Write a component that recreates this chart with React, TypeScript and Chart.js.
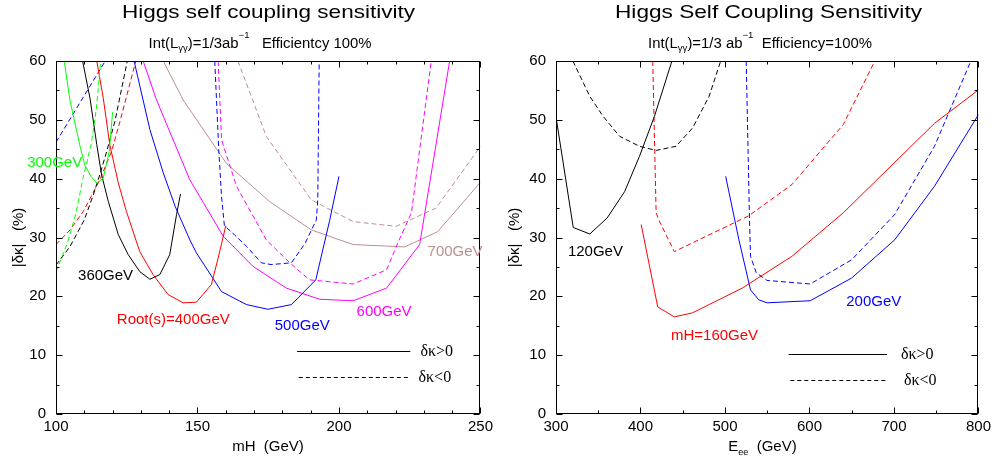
import React, { useEffect, useRef } from 'react';
import { Chart, registerables } from 'chart.js';

Chart.register(...registerables);

const FONT = '"Liberation Sans", Arial, Helvetica, sans-serif';
const SERIF = '"Liberation Serif", "Times New Roman", serif';

// ===== Left panel: |δκ| (%) vs mH (GeV) =====
const mH_ticks = [100, 150, 200, 250];
const dk_ticks = [0, 10, 20, 30, 40, 50, 60];

// √s = 300 GeV
const s300_pos_x = [102.9, 104.9, 108.5, 110.2, 112.5, 114.4, 116.7, 118.8, 120];
const s300_pos_y = [60, 53.4, 45.5, 42.3, 40.3, 39.25, 40.1, 44.6, 51.3];
const s300_neg_x = [100, 104, 107, 109.5, 112.5, 114.3, 115.8];
const s300_neg_y = [24.2, 29, 34, 40, 46, 52, 60];
// √s = 360 GeV
const s360_pos_x = [109.4, 112, 114.4, 116.1, 118.5, 122, 125.5, 129.6, 133.2, 136.7, 140.2, 142.6, 144];
const s360_pos_y = [60, 53.7, 45.8, 40.7, 36.1, 30.5, 27.1, 24.2, 22.9, 23.7, 27.1, 33.9, 37.4];
const s360_neg_x = [100, 105, 110, 113, 115.5, 117.9, 120.8, 125.2];
const s360_neg_y = [25.3, 28.5, 33, 37, 40.7, 44.6, 49.7, 60];
// √s = 400 GeV
const s400_pos_x = [114.4, 116.7, 119, 122, 124.9, 129.6, 134.3, 139.6, 144.9, 149.6, 154.9, 157.3, 160];
const s400_pos_y = [60, 53.7, 45.8, 39.3, 34.4, 27.6, 23.7, 20.3, 18.9, 19.0, 22.0, 26.5, 32];
const s400_neg_x = [100, 105, 109.6, 115.5, 119.6, 122.6, 128.2];
const s400_neg_y = [28.8, 31.3, 34.4, 39.8, 44.6, 49.7, 60];
// √s = 500 GeV
const s500_pos_x = [127.6, 133.2, 137.9, 142.1, 147.3, 149.6, 158.5, 167.3, 174.9, 183.2, 191.8, 196.7, 200];
const s500_pos_y = [60, 48.3, 41.0, 35.3, 29.6, 27.4, 20.8, 18.6, 17.8, 18.6, 22.8, 32.9, 40.4];
const s500_negA_x = [100, 117.4];
const s500_negA_y = [46.2, 60];
const s500_negB_x = [156.1, 157.5, 158.5, 159.5, 163, 167.3, 172.6, 176, 183.2, 188, 192, 192.5, 193];
const s500_negB_y = [60, 45, 37, 32, 30.5, 28.5, 25.7, 25.4, 25.7, 29, 33, 36.4, 60];
// √s = 600 GeV
const s600_pos_x = [130.8, 135.5, 147.3, 159.1, 169.6, 181.4, 193.2, 205, 216.8, 228.5, 239.1];
const s600_pos_y = [60, 53.4, 39.8, 30.2, 25.1, 21.4, 19.5, 19.25, 21.4, 28.8, 60];
const s600_neg_x = [157.3, 158.5, 163.8, 174.3, 182.6, 189.6, 205, 216.8, 221, 225.6, 232.6];
const s600_neg_y = [60, 46.6, 38.7, 29.6, 25.7, 22.8, 22.1, 24.5, 29.3, 34.2, 60];
// √s = 700 GeV
const s700_pos_x = [137.9, 144.9, 160.2, 175.5, 190.2, 200.2, 205, 223.2, 234.9, 250];
const s700_pos_y = [60, 53.4, 42.6, 36.1, 31.3, 29.6, 28.8, 28.4, 31.0, 39.4];
const s700_neg_x = [164.3, 174.3, 190.2, 205, 220.2, 234.3, 250];
const s700_neg_y = [60, 47.2, 36.4, 32.7, 31.9, 35.0, 45.5];

// ===== Right panel: |δκ| (%) vs E_ee (GeV) =====
const Eee_ticks = [300, 400, 500, 600, 700, 800];

// mH = 120 GeV
const m120_pos_x = [300, 320.4, 340, 360.4, 381.2, 398.8, 416.5, 437.2];
const m120_pos_y = [50.5, 31.7, 30.6, 33.3, 37.8, 43.8, 50.6, 60];
const m120_neg_x = [320, 340, 355.7, 375.3, 398.8, 418.5, 442, 461.6, 481.2, 494.9];
const m120_neg_y = [60, 54, 50.6, 47.2, 45.5, 44.8, 45.5, 48.6, 54, 60];
// mH = 160 GeV
const m160_pos_x = [400.8, 420.4, 440, 461.6, 520.4, 579.2, 640, 747.9, 800];
const m160_pos_y = [32.2, 18.2, 16.5, 17.2, 21.4, 26.8, 34.2, 49.4, 55.1];
const m160_neg_x = [414.5, 418.5, 421.6, 440, 528.2, 579.2, 640, 677.3];
const m160_neg_y = [60, 34.2, 33, 27.6, 33.7, 39.0, 49.2, 60];
// mH = 200 GeV
const m200_pos_x = [500.8, 516.5, 530.2, 540, 549.8, 600.8, 649.8, 700.8, 747.9, 800];
const m200_pos_y = [40.4, 29.6, 21.1, 19.4, 18.9, 19.25, 23.1, 29.6, 38.7, 50.9];
const m200_neg_x = [525.1, 529, 530.2, 537, 549.8, 600.8, 649.8, 700.8, 747.9, 791];
const m200_neg_y = [60, 33, 26.8, 24, 22.7, 22.1, 26.2, 33.9, 45.5, 60];

// ===== colours =====
const GREEN = '#00ff00';
const BLACK = '#000000';
const RED = '#ff0000';
const BLUE = '#0000ff';
const MAGENTA = '#ff00ff';
const BROWN = '#bc8f8f';
const DASH = [5, 3];

const pts = (xs: number[], ys: number[]) => xs.map((x, i) => ({ x, y: ys[i] }));
const ds = (xs: number[], ys: number[], color: string, dashed: boolean) => ({
  data: pts(xs, ys),
  borderColor: color,
  backgroundColor: color,
  borderWidth: 1,
  borderDash: dashed ? DASH : [],
  pointRadius: 0,
  tension: 0,
  fill: false,
});

type Seg = { t: string; s: number; dy: number; serif?: boolean };
type Lbl = { text: string; x: number; y: number; color: string };
type Leg = { x0: number; x1: number; y: number; dashed: boolean; text: string; tx: number };
interface Deco {
  labels: Lbl[];
  legend: Leg[];
  title: Seg[]; titleCx: number; titleBase: number; titleW: number;
  sub: Seg[]; subCx: number; subBase: number; subW: number;
  xTitle: Seg[]; xTitleCx: number; xTitleBase: number;
  yTitle: string; yTitleCx: number;
  xMinor: number; xMajor: number; yMinor: number; yMajor: number;
}

function drawRich(ctx: CanvasRenderingContext2D, segs: Seg[], cx: number, base: number, targetW?: number) {
  let w = 0;
  for (const s of segs) {
    ctx.font = `${s.s}px ${s.serif ? SERIF : FONT}`;
    w += ctx.measureText(s.t).width;
  }
  const k = targetW ? targetW / w : 1;
  ctx.save();
  ctx.translate(cx - (w * k) / 2, base);
  ctx.scale(k, 1);
  ctx.textAlign = 'left';
  ctx.textBaseline = 'alphabetic';
  ctx.fillStyle = '#000';
  let x = 0;
  for (const s of segs) {
    ctx.font = `${s.s}px ${s.serif ? SERIF : FONT}`;
    ctx.fillText(s.t, x, s.dy);
    x += ctx.measureText(s.t).width;
  }
  ctx.restore();
}

function makeDeco(d: Deco) {
  return {
    id: 'deco',
    afterDatasetsDraw(chart: any) {
      const { ctx, chartArea: a, scales } = chart;
      const xs = scales.x;
      const ys = scales.y;
      ctx.save();
      ctx.setLineDash([]);
      ctx.strokeStyle = '#000';
      ctx.lineWidth = 1;
      const L = Math.round(a.left) + 0.5;
      const R = Math.round(a.right) - 0.5;
      const T = Math.round(a.top) + 0.5;
      const B = Math.round(a.bottom) - 0.5;
      ctx.strokeRect(L, T, R - L, B - T);
      const line = (x0: number, y0: number, x1: number, y1: number) => {
        ctx.beginPath();
        ctx.moveTo(x0, y0);
        ctx.lineTo(x1, y1);
        ctx.stroke();
      };
      const isMajor = (v: number, m: number) => Math.abs(v / m - Math.round(v / m)) < 1e-6;
      for (let v = xs.min; v <= xs.max + 1e-9; v += d.xMinor) {
        const p = Math.round(xs.getPixelForValue(v)) + 0.5;
        const len = isMajor(v, d.xMajor) ? 6 : 3;
        line(p, B, p, B - len);
        line(p, T, p, T + len);
      }
      for (let v = ys.min; v <= ys.max + 1e-9; v += d.yMinor) {
        const p = Math.round(ys.getPixelForValue(v)) + 0.5;
        const len = isMajor(v, d.yMajor) ? 6 : 3;
        line(L, p, L + len, p);
        line(R, p, R - len, p);
      }
      // curve labels
      ctx.textAlign = 'left';
      ctx.textBaseline = 'middle';
      ctx.font = `15px ${FONT}`;
      for (const l of d.labels) {
        ctx.fillStyle = l.color;
        ctx.fillText(l.text, xs.getPixelForValue(l.x), ys.getPixelForValue(l.y));
      }
      // line-style key
      ctx.strokeStyle = '#000';
      ctx.fillStyle = '#000';
      ctx.font = `16px ${SERIF}`;
      for (const g of d.legend) {
        const y = Math.round(ys.getPixelForValue(g.y)) + 0.5;
        ctx.setLineDash(g.dashed ? [4, 3] : []);
        line(xs.getPixelForValue(g.x0), y, xs.getPixelForValue(g.x1), y);
        ctx.setLineDash([]);
        ctx.fillText(g.text, xs.getPixelForValue(g.tx), y);
      }
      // titles
      drawRich(ctx, d.title, d.titleCx, d.titleBase, d.titleW);
      drawRich(ctx, d.sub, d.subCx, d.subBase, d.subW);
      drawRich(ctx, d.xTitle, d.xTitleCx, d.xTitleBase);
      // y title
      ctx.save();
      ctx.translate(d.yTitleCx, (a.top + a.bottom) / 2);
      ctx.rotate(-Math.PI / 2);
      ctx.textAlign = 'center';
      ctx.textBaseline = 'middle';
      ctx.font = `15px ${FONT}`;
      ctx.fillStyle = '#000';
      ctx.fillText(d.yTitle, 0, 0);
      ctx.restore();
      ctx.restore();
    },
  };
}

function makeConfig(
  datasets: any[],
  xMin: number,
  xMax: number,
  xTicks: number[],
  yAxisW: number,
  padRight: number,
  deco: Deco
): any {
  const tickFont = { family: FONT, size: 15 };
  return {
    type: 'line',
    data: { datasets },
    options: {
      responsive: false,
      animation: false,
      events: [],
      layout: { padding: { top: 61, right: padRight, left: 0, bottom: 0 } },
      plugins: { legend: { display: false }, tooltip: { enabled: false }, title: { display: false } },
      scales: {
        x: {
          type: 'linear',
          min: xMin,
          max: xMax,
          afterBuildTicks: (s: any) => { s.ticks = xTicks.map((v) => ({ value: v })); },
          ticks: { color: '#000', font: tickFont, padding: 4, maxRotation: 0, autoSkip: false },
          grid: { display: false, drawTicks: false },
          border: { display: false },
          afterFit: (s: any) => { s.height = 50; },
        },
        y: {
          type: 'linear',
          min: 0,
          max: 60,
          afterBuildTicks: (s: any) => { s.ticks = dk_ticks.map((v) => ({ value: v })); },
          ticks: { color: '#000', font: tickFont, padding: 10 },
          grid: { display: false, drawTicks: false },
          border: { display: false },
          afterFit: (s: any) => { s.width = yAxisW; },
        },
      },
    },
    plugins: [makeDeco(deco)],
  };
}

const leftDatasets = () => [
  ds(s300_pos_x, s300_pos_y, GREEN, false),
  ds(s300_neg_x, s300_neg_y, GREEN, true),
  ds(s360_pos_x, s360_pos_y, BLACK, false),
  ds(s360_neg_x, s360_neg_y, BLACK, true),
  ds(s400_pos_x, s400_pos_y, RED, false),
  ds(s400_neg_x, s400_neg_y, RED, true),
  ds(s500_pos_x, s500_pos_y, BLUE, false),
  ds(s500_negA_x, s500_negA_y, BLUE, true),
  ds(s500_negB_x, s500_negB_y, BLUE, true),
  ds(s600_pos_x, s600_pos_y, MAGENTA, false),
  ds(s600_neg_x, s600_neg_y, MAGENTA, true),
  ds(s700_pos_x, s700_pos_y, BROWN, false),
  ds(s700_neg_x, s700_neg_y, BROWN, true),
];

const rightDatasets = () => [
  ds(m120_pos_x, m120_pos_y, BLACK, false),
  ds(m120_neg_x, m120_neg_y, BLACK, true),
  ds(m160_pos_x, m160_pos_y, RED, false),
  ds(m160_neg_x, m160_neg_y, RED, true),
  ds(m200_pos_x, m200_pos_y, BLUE, false),
  ds(m200_neg_x, m200_neg_y, BLUE, true),
];

const leftDeco: Deco = {
  labels: [
    { text: '300GeV', x: 89.8, y: 42.7, color: GREEN },
    { text: '360GeV', x: 107.8, y: 23.5, color: BLACK },
    { text: 'Root(s)=400GeV', x: 121.5, y: 16.0, color: RED },
    { text: '500GeV', x: 177.3, y: 14.9, color: BLUE },
    { text: '600GeV', x: 206.2, y: 17.4, color: MAGENTA },
    { text: '700GeV', x: 231.3, y: 27.6, color: BROWN },
  ],
  legend: [
    { x0: 185.2, x1: 225.2, y: 10.75, dashed: false, text: 'δκ>0', tx: 228.8 },
    { x0: 185.8, x1: 225.0, y: 6.3, dashed: true, text: 'δκ<0', tx: 228.1 },
  ],
  title: [{ t: 'Higgs self coupling sensitivity', s: 19, dy: 0 }],
  titleCx: 268.5, titleBase: 17.5, titleW: 293,
  sub: [
    { t: 'Int(L', s: 14, dy: 0 },
    { t: 'γγ', s: 9, dy: 3 },
    { t: ')=1/3ab', s: 14, dy: 0 },
    { t: '−1', s: 9, dy: -10 },
    { t: '   Efficientcy 100%', s: 14, dy: 0 },
  ],
  subCx: 260, subBase: 48.3, subW: 223,
  xTitle: [{ t: 'mH  (GeV)', s: 15, dy: 0 }],
  xTitleCx: 268, xTitleBase: 451,
  yTitle: '|δκ|   (%)', yTitleCx: 19,
  xMinor: 10, xMajor: 50, yMinor: 5, yMajor: 10,
};

const rightDeco: Deco = {
  labels: [
    { text: '120GeV', x: 314.1, y: 27.6, color: BLACK },
    { text: 'mH=160GeV', x: 436.1, y: 13.2, color: RED },
    { text: '200GeV', x: 643.5, y: 19.1, color: BLUE },
  ],
  legend: [
    { x0: 575.3, x1: 691.8, y: 10.2, dashed: false, text: 'δκ>0', tx: 708.2 },
    { x0: 577.3, x1: 691.8, y: 5.7, dashed: true, text: 'δκ<0', tx: 711.8 },
  ],
  title: [{ t: 'Higgs Self Coupling Sensitivity', s: 19, dy: 0 }],
  titleCx: 271.5, titleBase: 17.5, titleW: 307,
  sub: [
    { t: 'Int(L', s: 14, dy: 0 },
    { t: 'γγ', s: 9, dy: 3 },
    { t: ')=1/3 ab', s: 14, dy: 0 },
    { t: '−1', s: 9, dy: -10 },
    { t: '  Efficiency=100%', s: 14, dy: 0 },
  ],
  subCx: 263, subBase: 48.3, subW: 224,
  xTitle: [
    { t: 'E', s: 15, dy: 0 },
    { t: 'ee', s: 9, dy: 4 },
    { t: '  (GeV)', s: 15, dy: 0 },
  ],
  xTitleCx: 265.5, xTitleBase: 451,
  yTitle: '|δκ|   (%)', yTitleCx: 18,
  xMinor: 50, xMajor: 100, yMinor: 5, yMajor: 10,
};

function Panel(props: { width: number; config: () => any }) {
  const ref = useRef<HTMLCanvasElement | null>(null);
  useEffect(() => {
    if (!ref.current) return;
    const chart = new Chart(ref.current, props.config());
    return () => chart.destroy();
  }, []);
  return (
    <canvas
      ref={ref}
      width={props.width}
      height={464}
      style={{ display: 'block', width: props.width, height: 464 }}
    />
  );
}

export default function App() {
  return (
    <div
      style={{
        position: 'absolute',
        left: 0,
        top: 0,
        width: 995,
        height: 464,
        display: 'flex',
        background: '#fff',
      }}
    >
      <Panel width={497} config={() => makeConfig(leftDatasets(), 100, 250, mH_ticks, 56, 16, leftDeco)} />
      <Panel width={498} config={() => makeConfig(rightDatasets(), 300, 800, Eee_ticks, 59, 14, rightDeco)} />
    </div>
  );
}
